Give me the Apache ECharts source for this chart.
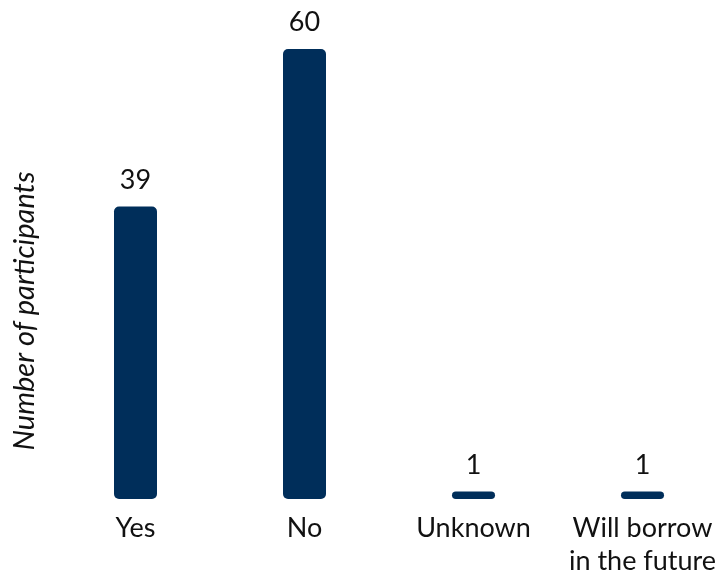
<!DOCTYPE html>
<html>
<head>
<meta charset="utf-8">
<script src="https://cdn.jsdelivr.net/npm/echarts@6/dist/echarts.min.js"></script>
<style>
  html, body { margin: 0; padding: 0; background: #fff; }
  #chart { width: 715px; height: 573px; }
</style>
</head>
<body>
<div id="chart"></div>
<script>
// Responses and how many participants gave each one
const categories = ['Yes', 'No', 'Unknown', 'Will borrow\nin the future'];
const participants = [39, 60, 1, 1];
const yAxisTitle = 'Number of participants';

const FONT = 'Lato, "Noto Sans", sans-serif';
const NAVY = '#002e5a';

const chart = echarts.init(document.getElementById('chart'), null, { renderer: 'canvas' });
chart.setOption({
  animation: false,
  backgroundColor: '#ffffff',
  grid: {
    left: 51, width: 676, top: 49, bottom: 74,
    containLabel: false,
    outerBoundsMode: 'none'
  },
  xAxis: {
    type: 'category',
    data: categories,
    axisLine: { show: false },
    axisTick: { show: false },
    axisLabel: {
      color: '#111',
      fontFamily: FONT,
      fontSize: 27,
      lineHeight: 33,
      margin: 13,
      interval: 0,
      hideOverlap: false
    }
  },
  yAxis: {
    type: 'value',
    min: 0,
    max: 60,
    name: yAxisTitle,
    nameLocation: 'middle',
    nameRotate: 90,
    nameGap: 12,
    nameTextStyle: {
      color: '#111',
      fontFamily: FONT,
      fontSize: 29,
      fontStyle: 'italic',
      // title sits a little below the middle of the plot
      padding: [0, 74, 0, 0]
    },
    axisLine: { show: false },
    axisTick: { show: false },
    axisLabel: { show: false },
    splitLine: { show: false }
  },
  series: [{
    type: 'bar',
    data: participants,
    barWidth: 43,
    itemStyle: { color: NAVY, borderRadius: 5 },
    label: {
      show: true,
      position: 'top',
      distance: 13,
      color: '#111',
      fontFamily: FONT,
      fontSize: 27
    }
  }]
});
</script>
</body>
</html>
